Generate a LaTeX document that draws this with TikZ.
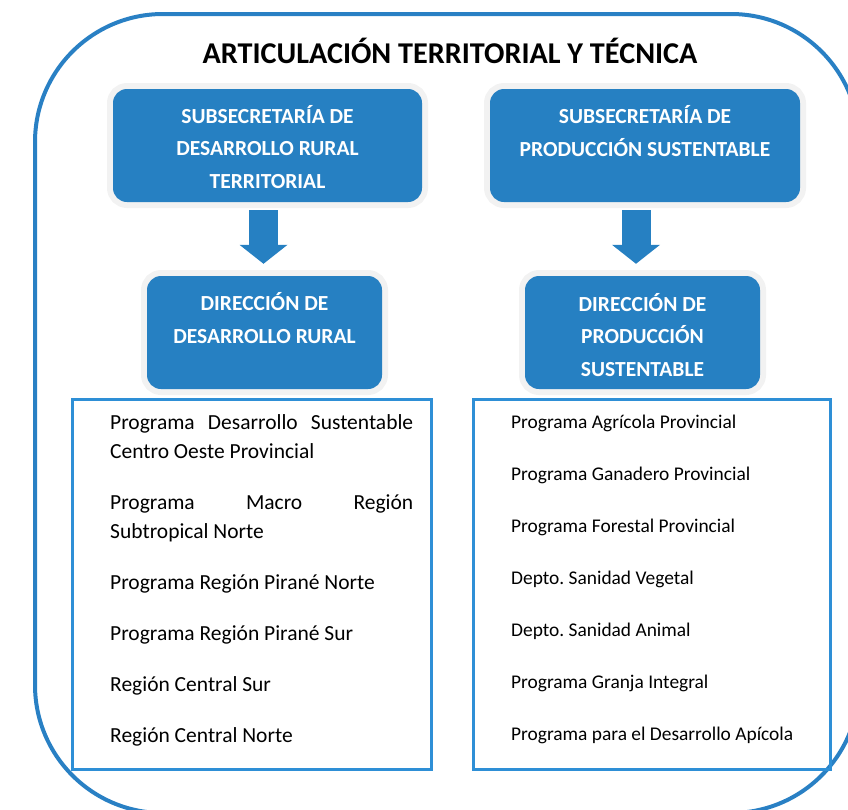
\documentclass[tikz,border=0pt]{standalone}
\usepackage{fontspec}
\setmainfont{Carlito}
\usepackage{xcolor}
\usepackage{tikz}
\usetikzlibrary{arrows.meta}
\frenchspacing

\definecolor{boxblue}{RGB}{38,128,194}
\definecolor{frameblue}{RGB}{41,128,196}
\definecolor{listblue}{RGB}{46,143,214}

\begin{document}
\begin{tikzpicture}[x=1pt, y=-1pt]
\tikzset{
  bluebox/.style={fill=boxblue, rounded corners=14pt, inner sep=0pt, preaction={draw=black!5, line width=12pt}},
  boxtext/.style={text=white, font=\fontsize{21.5}{32.5}\selectfont\bfseries, align=center, anchor=base, inner sep=0pt},
  listbox/.style={draw=listblue, line width=3pt, inner sep=0pt},
  item/.style={font=\fontsize{21.5}{29.5}\selectfont, anchor=base west, inner sep=0pt},
  itemr/.style={font=\fontsize{19.4}{24}\selectfont, anchor=base west, inner sep=0pt},
  bigarrow/.style={boxblue, line width=29pt, -{Triangle[length=19pt, width=47pt]}, shorten <=8pt, shorten >=12pt},
}
\useasboundingbox (0,0) rectangle (848,809);
\clip (0,0) rectangle (848,809);
\draw[frameblue, line width=4pt, rounded corners=128pt] (35,14) rectangle (859,813);

\node[font=\fontsize{30.2}{34}\selectfont\bfseries, anchor=base, inner sep=0pt] (title) at (450,63) {ARTICULACIÓN TERRITORIAL Y TÉCNICA};

% subsecretarias
\node[bluebox, minimum width=309pt, minimum height=113pt] (sub1) at (267.5,145.5) {};
\node[boxtext] (sub1txt) at (267.5,188) {SUBSECRETARÍA DE\\DESARROLLO RURAL\\TERRITORIAL};
\node[bluebox, minimum width=310pt, minimum height=113pt] (sub2) at (645,145.5) {};
\node[boxtext] (sub2txt) at (645,156) {SUBSECRETARÍA DE\\PRODUCCIÓN SUSTENTABLE};

% direcciones
\node[bluebox, minimum width=235pt, minimum height=113pt] (dir1) at (264.5,332.5) {};
\node[boxtext] (dir1txt) at (264.5,343.3) {DIRECCIÓN DE\\DESARROLLO RURAL};
\node[bluebox, minimum width=235pt, minimum height=113pt] (dir2) at (642.5,332.5) {};
\node[boxtext] (dir2txt) at (642.5,376) {DIRECCIÓN DE\\PRODUCCIÓN\\SUSTENTABLE};

\draw[bigarrow] ([xshift=-4pt]sub1.south) -- ([xshift=-4pt]sub1.south |- dir1.north);
\draw[bigarrow] ([xshift=-9pt]sub2.south) -- ([xshift=-9pt]sub2.south |- dir2.north);

% listas
\node[listbox, minimum width=359pt, minimum height=370pt] (list1) at (251.5,584) {};
\node[listbox, minimum width=357pt, minimum height=370pt] (list2) at (651.5,584) {};

\node[item, text width=303pt, align=justify] (l1) at (110,429) {Programa Desarrollo Sustentable Centro Oeste Provincial};
\node[item, text width=303pt, align=justify] (l2) at (110,509) {Programa Macro Región\linebreak Subtropical Norte};
\node[item] (l3) at (110,589) {Programa Región Pirané Norte};
\node[item] (l4) at (110,640) {Programa Región Pirané Sur};
\node[item] (l5) at (110,691) {Región Central Sur};
\node[item] (l6) at (110,742) {Región Central Norte};

\node[itemr] (r1) at (511,428) {Programa Agrícola Provincial};
\node[itemr] (r2) at (511,480) {Programa Ganadero Provincial};
\node[itemr] (r3) at (511,532) {Programa Forestal Provincial};
\node[itemr] (r4) at (511,584) {Depto. Sanidad Vegetal};
\node[itemr] (r5) at (511,636) {Depto. Sanidad Animal};
\node[itemr] (r6) at (511,688) {Programa Granja Integral};
\node[itemr] (r7) at (511,740) {Programa para el Desarrollo Apícola};
\end{tikzpicture}
\end{document}
